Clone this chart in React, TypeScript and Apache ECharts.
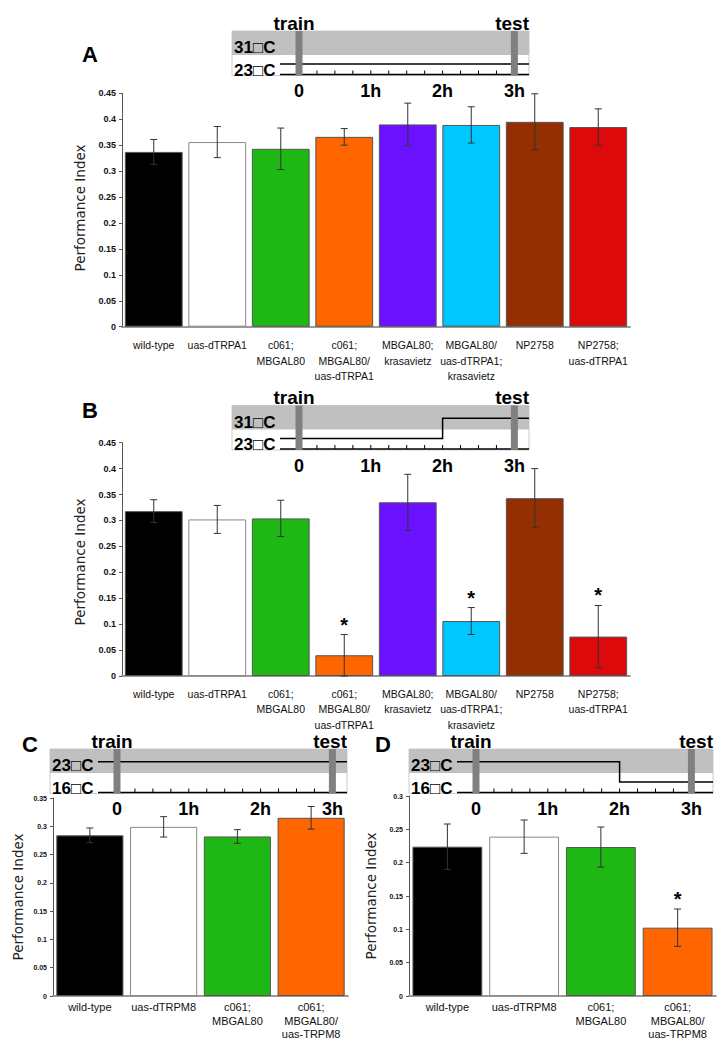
import React, { useEffect, useRef } from "react";
import * as echarts from "echarts";

// ---------- data ----------
const catsAB = [
  "wild-type",
  "uas-dTRPA1",
  "c061;\nMBGAL80",
  "c061;\nMBGAL80/\nuas-dTRPA1",
  "MBGAL80;\nkrasavietz",
  "MBGAL80/\nuas-dTRPA1;\nkrasavietz",
  "NP2758",
  "NP2758;\nuas-dTRPA1",
];
const colorsAB = ["#000000", "#ffffff", "#1fb714", "#ff6600", "#6a11ff", "#00c8ff", "#932f00", "#dc0a0a"];
const valuesA = [0.337, 0.356, 0.343, 0.366, 0.390, 0.389, 0.395, 0.385];
const errA = [0.024, 0.030, 0.040, 0.016, 0.041, 0.035, 0.054, 0.035];
const sigA = [0, 0, 0, 0, 0, 0, 0, 0];
const valuesB = [0.318, 0.302, 0.304, 0.040, 0.335, 0.106, 0.343, 0.076];
const errB = [0.022, 0.027, 0.035, 0.040, 0.054, 0.026, 0.057, 0.060];
const sigB = [0, 0, 0, 1, 0, 1, 0, 1];

const catsCD = ["wild-type", "uas-dTRPM8", "c061;\nMBGAL80", "c061;\nMBGAL80/\nuas-TRPM8"];
const colorsCD = ["#000000", "#ffffff", "#1fb714", "#ff6600"];
const valuesC = [0.284, 0.299, 0.282, 0.315];
const errC = [0.013, 0.018, 0.012, 0.020];
const sigC = [0, 0, 0, 0];
const valuesD = [0.224, 0.239, 0.2235, 0.1025];
const errD = [0.034, 0.025, 0.030, 0.028];
const sigD = [0, 0, 0, 1];

const hourLabels = ["0", "1h", "2h", "3h"];
const DEG = "\u25A1";

// ---------- helpers ----------
const HOUR = 71.8;

function header(x0: number, y0: number, W: number, upper: string, lower: string, path: string) {
  const H = 44.5, band = 24;
  const t0 = x0 + 67;
  const ls = x0 + 48;
  const yHigh = y0 + 12.7, yLow = y0 + 33;
  const yAxis = y0 + H - 1;
  const els: any[] = [];
  els.push({ type: "rect", shape: { x: x0, y: y0, width: W, height: H }, style: { fill: "#fff", stroke: "#cccccc", lineWidth: 1 } });
  els.push({ type: "rect", shape: { x: x0, y: y0, width: W, height: band }, style: { fill: "#c0c0c0" } });
  for (let q = 1; q < 12; q++) {
    const x = t0 + (q * HOUR) / 4;
    els.push({ type: "line", shape: { x1: x, y1: yAxis - 4, x2: x, y2: yAxis }, style: { stroke: "#000", lineWidth: 1 } });
  }
  els.push({ type: "line", shape: { x1: ls, y1: yAxis, x2: x0 + W, y2: yAxis }, style: { stroke: "#000", lineWidth: 1.5 } });
  const t2 = t0 + 2 * HOUR;
  let pts: number[][] = [];
  if (path === "low") pts = [[ls, yLow], [x0 + W, yLow]];
  else if (path === "high") pts = [[ls, yHigh], [x0 + W, yHigh]];
  else if (path === "lowhigh") pts = [[ls, yLow], [t2, yLow], [t2, yHigh], [x0 + W, yHigh]];
  else pts = [[ls, yHigh], [t2, yHigh], [t2, yLow], [x0 + W, yLow]];
  els.push({ type: "polyline", shape: { points: pts }, style: { stroke: "#000", lineWidth: 1.5, fill: null } });
  els.push({ type: "rect", shape: { x: t0 - 3.5, y: y0, width: 7, height: H }, style: { fill: "#808080" } });
  els.push({ type: "rect", shape: { x: t0 + 3 * HOUR - 3.5, y: y0, width: 7, height: H }, style: { fill: "#808080" } });
  const bold = (s: number) => `bold ${s}px "Liberation Sans", Arial, sans-serif`;
  els.push({ type: "text", style: { text: "train", x: t0 - 5, y: y0 - 8, align: "center", verticalAlign: "middle", font: bold(19), fill: "#000" } });
  els.push({ type: "text", style: { text: "test", x: x0 + W, y: y0 - 8, align: "right", verticalAlign: "middle", font: bold(19), fill: "#000" } });
  els.push({ type: "text", style: { text: upper, x: x0 + 2, y: y0 + 16.5, align: "left", verticalAlign: "middle", font: bold(17), fill: "#000" } });
  els.push({ type: "text", style: { text: lower, x: x0 + 2, y: y0 + 39, align: "left", verticalAlign: "middle", font: bold(17), fill: "#000" } });
  hourLabels.forEach((h, i) => {
    els.push({ type: "text", style: { text: h, x: t0 + i * HOUR, y: y0 + 60, align: "center", verticalAlign: "middle", font: bold(18), fill: "#000" } });
  });
  return els;
}

function perfLabel(x: number, y: number) {
  return {
    type: "text",
    x,
    y,
    rotation: Math.PI / 2,
    style: { text: "Performance Index", x: 0, y: 0, align: "center", verticalAlign: "middle", font: '13.5px "DejaVu Sans", Verdana, sans-serif', fill: "#222" },
  };
}

function panelLetter(t: string, x: number, y: number) {
  return { type: "text", style: { text: t, x, y, align: "center", verticalAlign: "middle", font: 'bold 22px "Liberation Sans", Arial, sans-serif', fill: "#000" } };
}

function barSeries(i: number, vals: number[], colors: string[]) {
  return {
    type: "bar",
    xAxisIndex: i,
    yAxisIndex: i,
    barCategoryGap: "9%",
    data: vals.map((v, k) => ({
      value: v,
      itemStyle: { color: colors[k], borderColor: colors[k] === "#ffffff" ? "#888" : "#555", borderWidth: 1 },
    })),
  };
}

function errSeries(i: number, vals: number[], errs: number[], sigs: number[]) {
  return {
    type: "custom",
    xAxisIndex: i,
    yAxisIndex: i,
    z: 10,
    encode: { x: 0, y: [1, 2] },
    data: vals.map((v, k) => [k, v - errs[k], v + errs[k], sigs[k]]),
    renderItem: (params: any, api: any) => {
      const lo = api.coord([api.value(0), api.value(1)]);
      const hi = api.coord([api.value(0), api.value(2)]);
      const w = 3.5;
      const st = { stroke: "#333", lineWidth: 1 };
      const children: any[] = [
        { type: "line", shape: { x1: lo[0], y1: lo[1], x2: hi[0], y2: hi[1] }, style: st },
        { type: "line", shape: { x1: lo[0] - w, y1: lo[1], x2: lo[0] + w, y2: lo[1] }, style: st },
        { type: "line", shape: { x1: hi[0] - w, y1: hi[1], x2: hi[0] + w, y2: hi[1] }, style: st },
      ];
      if (api.value(3)) {
        children.push({
          type: "text",
          style: { text: "*", x: hi[0], y: hi[1] - 10, align: "center", verticalAlign: "middle", font: 'bold 20px "Liberation Sans", Arial, sans-serif', fill: "#000" },
        });
      }
      return { type: "group", children };
    },
  };
}

function xAxis(i: number, cats: string[], fs: number, lh: number, margin: number) {
  return {
    type: "category",
    gridIndex: i,
    data: cats,
    axisTick: { show: false },
    axisLine: { lineStyle: { color: "#999", width: 2 } },
    axisLabel: { interval: 0, fontSize: fs, lineHeight: lh, margin, color: "#111", fontFamily: '"Liberation Sans", Arial, sans-serif' },
  };
}

function yAxis(i: number, max: number, fs: number) {
  return {
    type: "value",
    gridIndex: i,
    min: 0,
    max,
    interval: 0.05,
    splitLine: { show: false },
    axisLine: { show: true, lineStyle: { color: "#555", width: 1 } },
    axisTick: { show: true, length: 3, lineStyle: { color: "#555" } },
    axisLabel: {
      fontSize: fs,
      fontWeight: "bold",
      color: "#111",
      margin: 6,
      fontFamily: '"Liberation Sans", Arial, sans-serif',
      formatter: (v: number) => String(+v.toFixed(2)),
    },
  };
}

export default function App() {
  const ref = useRef<HTMLDivElement>(null);
  useEffect(() => {
    if (!ref.current) return;
    const chart = echarts.init(ref.current, null, { renderer: "svg" });
    const option: any = {
      animation: false,
      backgroundColor: "#fff",
      grid: [
        { left: 122, top: 93.3, width: 508, height: 233.4 },
        { left: 122, top: 442.7, width: 508, height: 233.3 },
        { left: 53, top: 798, width: 295, height: 198 },
        { left: 409, top: 796, width: 307, height: 200 },
      ],
      xAxis: [
        xAxis(0, catsAB, 10.5, 15.5, 11),
        xAxis(1, catsAB, 10.5, 15.5, 10),
        xAxis(2, catsCD, 11, 13.5, 4.5),
        xAxis(3, catsCD, 11, 13.5, 4.5),
      ],
      yAxis: [yAxis(0, 0.45, 9), yAxis(1, 0.45, 9), yAxis(2, 0.35, 7), yAxis(3, 0.3, 7)],
      series: [
        barSeries(0, valuesA, colorsAB),
        errSeries(0, valuesA, errA, sigA),
        barSeries(1, valuesB, colorsAB),
        errSeries(1, valuesB, errB, sigB),
        barSeries(2, valuesC, colorsCD),
        errSeries(2, valuesC, errC, sigC),
        barSeries(3, valuesD, colorsCD),
        errSeries(3, valuesD, errD, sigD),
      ],
      graphic: {
        elements: [
          ...header(232, 31, 297, "31" + DEG + "C", "23" + DEG + "C", "low"),
          ...header(232, 405.5, 297, "31" + DEG + "C", "23" + DEG + "C", "lowhigh"),
          ...header(50, 749, 297, "23" + DEG + "C", "16" + DEG + "C", "high"),
          ...header(409, 749, 304, "23" + DEG + "C", "16" + DEG + "C", "highlow"),
          panelLetter("A", 90, 54),
          panelLetter("B", 90, 410),
          panelLetter("C", 30, 744),
          panelLetter("D", 383, 744),
          perfLabel(80, 208),
          perfLabel(80, 562),
          perfLabel(18, 897),
          perfLabel(371, 896),
        ],
      },
    };
    chart.setOption(option);
    return () => chart.dispose();
  }, []);
  return <div ref={ref} style={{ position: "absolute", left: 0, top: 0, width: 724, height: 1050 }} />;
}
